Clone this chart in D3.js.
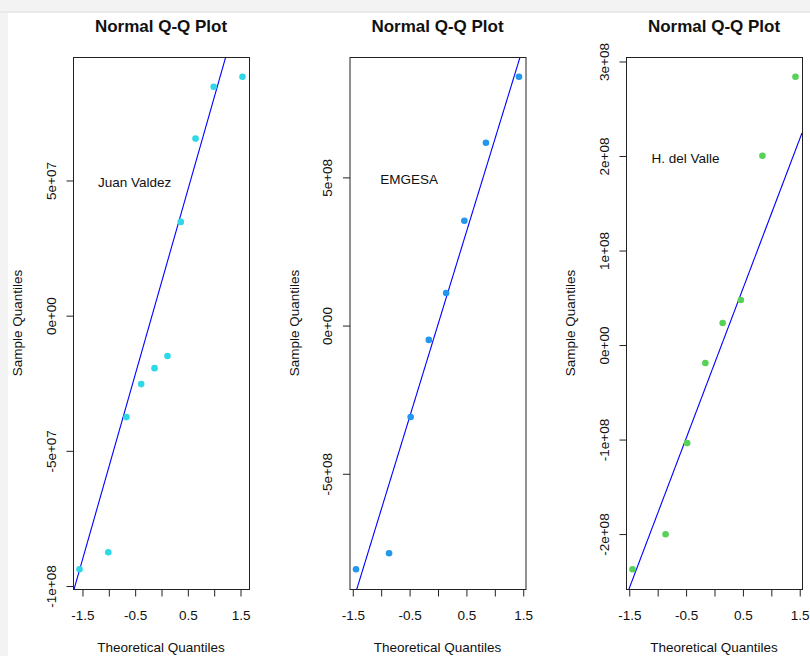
<!DOCTYPE html>
<meta charset="utf-8">
<style>
body { margin: 0; background: #f2f2f2; }
text { font-family: "Liberation Sans", Arial, sans-serif; fill: #111; }
.tick line { stroke: #222; }
.box { fill: none; stroke: #222; stroke-width: 1; }
</style>
<body>
<script src="https://d3js.org/d3.v7.min.js"></script>
<script>

// theoretical quantiles, qnorm(ppoints(n))
var theo10 = [-1.5466, -1.0003, -0.6554, -0.3755, -0.1226, 0.1226, 0.3755, 0.6554, 1.0003, 1.5466];
var theo8 = [-1.4342, -0.8524, -0.4728, -0.1525, 0.1525, 0.4728, 0.8524, 1.4342];

// sample quantiles (sorted)
var juanValdez = [-9.4e7, -8.77e7, -3.77e7, -2.55e7, -1.96e7, -1.51e7, 3.45e7, 6.53e7, 8.45e7, 8.82e7];
var emgesa = [-8.24e8, -7.7e8, -3.1e8, -0.5e8, 1.08e8, 3.52e8, 6.15e8, 8.38e8];
var hDelValle = [-2.378e8, -2.007e8, -1.043e8, -0.195e8, 0.228e8, 0.472e8, 1.997e8, 2.834e8];

var names = ["Juan Valdez", "EMGESA", "H. del Valle"];
var pointColors = ["#2ed8e6", "#2397ec", "#57d157"];
var labelX = [-0.5, -0.5, -0.5];
var labelY = [5e7, 5e8, 2e8];

var xTicks = [-1.5, -1, -0.5, 0, 0.5, 1, 1.5];
var xTickLabels = ["-1.5", "", "-0.5", "", "0.5", "", "1.5"];

var yTicks1 = [-1e8, -5e7, 0, 5e7];
var yTickLabels1 = ["-1e+08", "-5e+07", "0e+00", "5e+07"];
var yTicks2 = [-5e8, 0, 5e8];
var yTickLabels2 = ["-5e+08", "0e+00", "5e+08"];
var yTicks3 = [-2e8, -1e8, 0, 1e8, 2e8, 3e8];
var yTickLabels3 = ["-2e+08", "-1e+08", "0e+00", "1e+08", "2e+08", "3e+08"];

var width = 810, height = 656;
var boxW = 176, plotTop = 57, plotBottom = 589;
var lefts = [73, 349.5, 626];

var panels = [
  {theo: theo10, sample: juanValdez, yTicks: yTicks1, yLabels: yTickLabels1},
  {theo: theo8, sample: emgesa, yTicks: yTicks2, yLabels: yTickLabels2},
  {theo: theo8, sample: hDelValle, yTicks: yTicks3, yLabels: yTickLabels3}
];

var svg = d3.select("body").append("svg")
    .attr("width", width)
    .attr("height", height)
    .style("display", "block");

// window frame
svg.append("rect").attr("width", width).attr("height", height).attr("fill", "#f3f3f3");
svg.append("rect").attr("x", 0).attr("y", 11).attr("width", width).attr("height", 2).attr("fill", "#e9e9e9");
svg.append("rect").attr("x", 8).attr("y", 13).attr("width", width - 8).attr("height", height - 13).attr("fill", "#fff");

// R-style axis range: data range padded by 4%
function padded(a) {
  var e = d3.extent(a), r = e[1] - e[0];
  return [e[0] - 0.04 * r, e[1] + 0.04 * r];
}

panels.forEach(function(p, i) {
  var left = lefts[i];
  var g = svg.append("g").attr("transform", "translate(" + left + ",0)");

  var x = d3.scaleLinear().domain(padded(p.theo)).range([0, boxW]);
  var y = d3.scaleLinear().domain(padded(p.sample)).range([plotBottom, plotTop]);

  g.append("clipPath").attr("id", "clip" + i)
    .append("rect").attr("x", 0).attr("y", plotTop).attr("width", boxW).attr("height", plotBottom - plotTop);

  // qqline through the quartiles
  var q1 = d3.quantile(p.sample, 0.25), q3 = d3.quantile(p.sample, 0.75);
  var z = 0.6744898;
  var slope = (q3 - q1) / (2 * z);
  var intercept = q1 + slope * z;
  var xd = x.domain();
  g.append("line")
      .attr("clip-path", "url(#clip" + i + ")")
      .attr("x1", x(xd[0])).attr("y1", y(intercept + slope * xd[0]))
      .attr("x2", x(xd[1])).attr("y2", y(intercept + slope * xd[1]))
      .attr("stroke", "#0000ff")
      .attr("stroke-width", 1.1);

  g.selectAll("circle.pt")
    .data(p.sample)
    .enter().append("circle")
      .attr("class", "pt")
      .attr("cx", function(d, j) { return x(p.theo[j]); })
      .attr("cy", function(d) { return y(d); })
      .attr("r", 3.3)
      .attr("fill", pointColors[i]);

  g.append("rect").attr("class", "box")
      .attr("x", 0.5).attr("y", plotTop + 0.5)
      .attr("width", boxW).attr("height", plotBottom - plotTop);

  // x axis
  var xa = g.append("g")
      .attr("transform", "translate(0.5," + (plotBottom + 0.5) + ")")
      .call(d3.axisBottom(x).tickValues(xTicks).tickSize(7).tickSizeOuter(0)
        .tickFormat(function(d, j) { return xTickLabels[j]; }));
  xa.select(".domain").remove();
  xa.selectAll("text").attr("y", 30).attr("dy", 0)
      .style("font-size", "13.5px").attr("fill", "#111");

  // y axis
  var ya = g.append("g")
      .attr("transform", "translate(0.5,0.5)")
      .call(d3.axisLeft(y).tickValues(p.yTicks).tickSize(7).tickSizeOuter(0)
        .tickFormat(function(d, j) { return p.yLabels[j]; }));
  ya.select(".domain").remove();
  ya.selectAll("text")
      .attr("x", null).attr("dy", 0)
      .attr("transform", "translate(-18,0) rotate(-90)")
      .attr("text-anchor", "middle")
      .style("font-size", "13.5px").attr("fill", "#111");

  g.append("text")
      .attr("x", boxW / 2).attr("y", 32)
      .attr("text-anchor", "middle")
      .style("font-size", "17px").style("font-weight", "bold")
      .text("Normal Q-Q Plot");

  g.append("text")
      .attr("x", boxW / 2).attr("y", 652)
      .attr("text-anchor", "middle")
      .style("font-size", "13.5px")
      .text("Theoretical Quantiles");

  g.append("text")
      .attr("transform", "translate(-51," + ((plotTop + plotBottom) / 2) + ") rotate(-90)")
      .attr("text-anchor", "middle")
      .style("font-size", "13.5px")
      .text("Sample Quantiles");

  g.append("text")
      .attr("x", x(labelX[i])).attr("y", y(labelY[i]))
      .attr("dy", "0.55em")
      .attr("text-anchor", "middle")
      .style("font-size", "13.5px")
      .text(names[i]);
});

</script>
</body>
